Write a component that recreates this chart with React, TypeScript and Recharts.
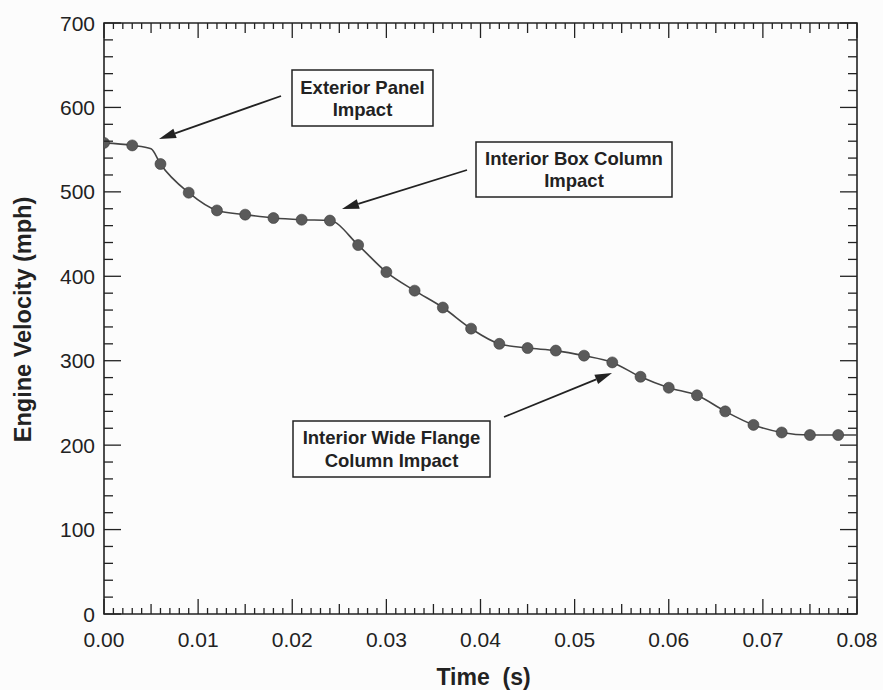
import React from 'react'
import {
  ComposedChart,
  Line,
  Scatter,
  XAxis,
  YAxis,
  ReferenceArea,
} from 'recharts'

// Marker samples (s, mph)
const TIME = [
  0, 0.003, 0.006, 0.009, 0.012, 0.015, 0.018, 0.021, 0.024, 0.027, 0.03, 0.033, 0.036, 0.039,
  0.042, 0.045, 0.048, 0.051, 0.054, 0.057, 0.06, 0.063, 0.066, 0.069, 0.072, 0.075, 0.078,
]
const VELOCITY = [
  558, 555, 533, 499, 478, 473, 469, 467, 466, 437, 405, 383, 363, 338,
  320, 315, 312, 306, 298, 281, 268, 259, 240, 224, 215, 212, 212,
]
// Extra knots the curve passes through without a marker
const KNOT_TIME = [0.005, 0.08]
const KNOT_VELOCITY = [551, 212]

const X_MAJOR = [0, 0.01, 0.02, 0.03, 0.04, 0.05, 0.06, 0.07, 0.08]
const Y_MAJOR = [0, 100, 200, 300, 400, 500, 600, 700]
const X_MINOR_STEP = 0.001
const Y_MINOR_STEP = 20

const W = 883
const H = 690
const PLOT_LEFT = 104
const PLOT_RIGHT = 857
const PLOT_TOP = 23
const PLOT_BOTTOM = 614
const INK = '#222'
const FONT = '"Liberation Sans", Arial, Helvetica, sans-serif'

const markers = TIME.map((t, i) => ({ t, v: VELOCITY[i] }))
const curve = [...markers, ...KNOT_TIME.map((t, i) => ({ t, v: KNOT_VELOCITY[i] }))].sort(
  (a, b) => a.t - b.t,
)

const xTicks: number[] = []
for (let i = 0; i <= Math.round(X_MAJOR[X_MAJOR.length - 1] / X_MINOR_STEP); i++) {
  xTicks.push(+(i * X_MINOR_STEP).toFixed(3))
}
const yTicks: number[] = []
for (let i = 0; i <= Y_MAJOR[Y_MAJOR.length - 1] / Y_MINOR_STEP; i++) {
  yTicks.push(i * Y_MINOR_STEP)
}

function XTick(props: any) {
  const { x, payload } = props
  const v = payload.value as number
  const k = Math.round(v / X_MINOR_STEP)
  const major = X_MAJOR.some((m) => Math.abs(m - v) < 1e-9)
  const len = major ? 15 : k % 5 === 0 ? 10 : 6
  return (
    <g>
      <line x1={x} x2={x} y1={PLOT_BOTTOM} y2={PLOT_BOTTOM - len} stroke={INK} strokeWidth={1.3} />
      <line x1={x} x2={x} y1={PLOT_TOP} y2={PLOT_TOP + len} stroke={INK} strokeWidth={1.3} />
      {major && (
        <text x={x} y={PLOT_BOTTOM + 33} textAnchor="middle" fontSize={21} fill={INK} fontFamily={FONT}>
          {v.toFixed(2)}
        </text>
      )}
    </g>
  )
}

function YTick(props: any) {
  const { y, payload } = props
  const v = payload.value as number
  const major = Y_MAJOR.includes(v)
  const len = major ? 17 : 9
  return (
    <g>
      <line x1={PLOT_LEFT} x2={PLOT_LEFT + len} y1={y} y2={y} stroke={INK} strokeWidth={1.3} />
      <line x1={PLOT_RIGHT} x2={PLOT_RIGHT - len} y1={y} y2={y} stroke={INK} strokeWidth={1.3} />
      {major && (
        <text x={PLOT_LEFT - 9} y={y + 7.5} textAnchor="end" fontSize={21} fill={INK} fontFamily={FONT}>
          {v}
        </text>
      )}
    </g>
  )
}

function Dot(props: any) {
  const { cx, cy } = props
  return <circle cx={cx} cy={cy} r={5.5} fill="#5a5a5a" stroke="#3a3a3a" strokeWidth={0.6} />
}

type Note = {
  lines: string[]
  box: [number, number, number, number]
  baselines: number[]
  from: [number, number]
  to: [number, number]
}

const NOTES: Note[] = [
  {
    lines: ['Exterior Panel', 'Impact'],
    box: [292, 70, 141, 56],
    baselines: [94, 116],
    from: [281, 96],
    to: [159, 139],
  },
  {
    lines: ['Interior Box Column', 'Impact'],
    box: [476, 142, 196, 55],
    baselines: [165, 187],
    from: [467, 170],
    to: [342, 209],
  },
  {
    lines: ['Interior Wide Flange', 'Column Impact'],
    box: [293, 421, 197, 56],
    baselines: [444, 467],
    from: [504, 417],
    to: [612, 373],
  },
]

function Arrow({ from, to }: { from: [number, number]; to: [number, number] }) {
  const [x1, y1] = from
  const [x2, y2] = to
  const dx = x2 - x1
  const dy = y2 - y1
  const L = Math.hypot(dx, dy)
  const ux = dx / L
  const uy = dy / L
  const hl = 17
  const hw = 5
  const bx = x2 - ux * hl
  const by = y2 - uy * hl
  const pts = `${x2},${y2} ${bx - uy * hw},${by + ux * hw} ${bx + uy * hw},${by - ux * hw}`
  return (
    <g>
      <line x1={x1} y1={y1} x2={bx} y2={by} stroke={INK} strokeWidth={1.8} />
      <polygon points={pts} fill={INK} />
    </g>
  )
}

function Annotations() {
  return (
    <svg
      width={W}
      height={H}
      style={{ position: 'absolute', left: 0, top: 0, pointerEvents: 'none' }}
    >
      {NOTES.map((n, i) => {
        const [bx, by, bw, bh] = n.box
        return (
          <g key={i}>
            <Arrow from={n.from} to={n.to} />
            <rect x={bx} y={by} width={bw} height={bh} fill="#fdfdfd" stroke={INK} strokeWidth={1.5} />
            {n.lines.map((s, j) => (
              <text
                key={j}
                x={bx + bw / 2}
                y={n.baselines[j]}
                textAnchor="middle"
                fontSize={18.5}
                fontWeight={700}
                fill={INK}
                fontFamily={FONT}
              >
                {s}
              </text>
            ))}
          </g>
        )
      })}
    </svg>
  )
}

export default function App() {
  return (
    <div style={{ position: 'absolute', left: 0, top: 0, width: W, height: H, background: '#fcfcfc' }}>
      <ComposedChart
        width={W}
        height={H}
        margin={{ top: PLOT_TOP, right: W - PLOT_RIGHT, bottom: 0, left: 0 }}
      >
        <XAxis
          type="number"
          dataKey="t"
          domain={[0, 0.08]}
          ticks={xTicks}
          interval={0}
          allowDataOverflow
          height={H - PLOT_BOTTOM}
          tickSize={0}
          tickMargin={0}
          tickLine={false}
          axisLine={false}
          tick={<XTick />}
        />
        <YAxis
          type="number"
          dataKey="v"
          domain={[0, 700]}
          ticks={yTicks}
          interval={0}
          allowDataOverflow
          width={PLOT_LEFT}
          tickSize={0}
          tickMargin={0}
          tickLine={false}
          axisLine={false}
          tick={<YTick />}
        />
        <ReferenceArea x1={0} x2={0.08} y1={0} y2={700} fill="none" stroke={INK} strokeWidth={1.6} fillOpacity={0} />
        <Line
          data={curve}
          dataKey="v"
          type="monotone"
          stroke="#444"
          strokeWidth={1.6}
          dot={false}
          activeDot={false}
          isAnimationActive={false}
        />
        <Scatter data={markers} dataKey="v" shape={<Dot />} isAnimationActive={false} />
      </ComposedChart>
      <Annotations />
      <svg width={W} height={H} style={{ position: 'absolute', left: 0, top: 0, pointerEvents: 'none' }}>
        <text
          x={(PLOT_LEFT + PLOT_RIGHT) / 2 + 3}
          y={685}
          textAnchor="middle"
          fontSize={23}
          fontWeight={700}
          fill={INK}
          fontFamily={FONT}
          style={{ whiteSpace: 'pre' }}
        >
          {'Time  (s)'}
        </text>
        <text
          transform={`translate(31, ${(PLOT_TOP + PLOT_BOTTOM) / 2 + 1}) rotate(-90)`}
          textAnchor="middle"
          fontSize={23.5}
          fontWeight={700}
          fill={INK}
          fontFamily={FONT}
        >
          Engine Velocity (mph)
        </text>
      </svg>
    </div>
  )
}
